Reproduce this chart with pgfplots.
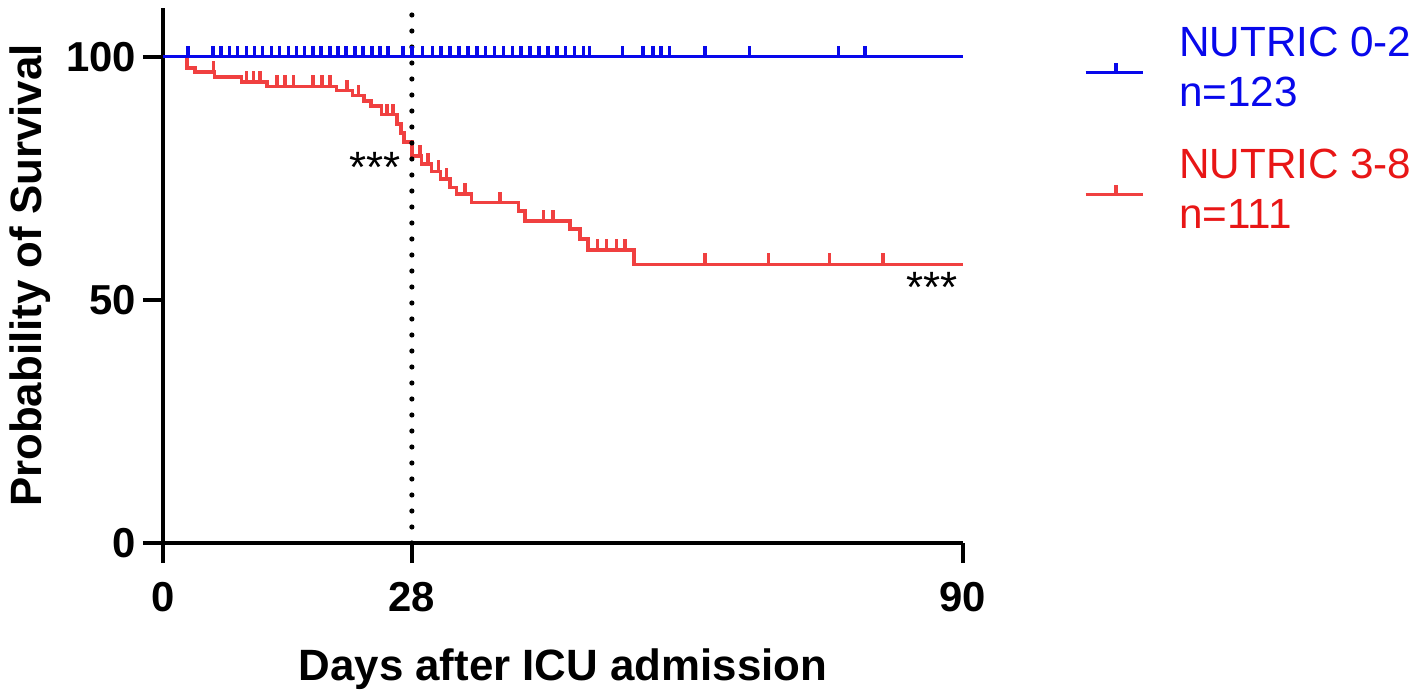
\documentclass[border=0pt]{standalone}
\usepackage{pgfplots}
\pgfplotsset{compat=1.18}
\usepackage{fontspec}
\setmainfont{Liberation Sans}
\definecolor{kmblue}{RGB}{8,8,235}
\definecolor{kmred}{RGB}{240,64,64}
\definecolor{txtred}{RGB}{232,22,22}
\pgfdeclareplotmark{cens}{%
  \pgfpathmoveto{\pgfqpoint{0pt}{0pt}}%
  \pgfpathlineto{\pgfqpoint{0pt}{\pgfplotmarksize}}%
  \pgfusepathqstroke}
\begin{document}
\begin{tikzpicture}
\useasboundingbox (-81.5bp,-75.5bp) rectangle (627bp,271.5bp);
\begin{axis}[
  at={(0,0)}, anchor=origin,
  scale only axis, width=400bp, height=267.5bp,
  xmin=0, xmax=90, ymin=0, ymax=110,
  axis x line*=bottom, axis y line*=left,
  xtick={0,28,90}, ytick={0,50,100},
  tick align=outside, major tick length=10bp,
  tick style={line width=2bp, black},
  axis line style={line width=2bp, black},
  /pgf/number format/assume math mode=true,
  ticklabel style={font=\fontsize{21}{21}\selectfont\bfseries},
  xticklabel style={yshift=-6bp},
  xlabel={Days after ICU admission},
  ylabel={Probability of Survival},
  xlabel style={font=\fontsize{22}{22}\selectfont\bfseries, at={(axis description cs:0.5,0)}, anchor=center, yshift=-63bp},
  ylabel style={font=\fontsize{22}{22}\selectfont\bfseries, at={(axis description cs:-0.16625,0.5)}, anchor=center},
  legend style={draw=none, fill=none, inner sep=0pt, outer sep=0pt,
    at={(axis description cs:0,0)}, anchor=north west, xshift=460.5bp, yshift=260bp,
    font=\fontsize{21.2}{25}\selectfont, row sep=15.8bp, column sep=15.5bp,
    cells={align=left, inner sep=0pt}},
  legend cell align=left,
  legend image code/.code={%
    \draw[#1, mark=none, line width=1.6bp] (0bp,-2.3bp) -- (28.5bp,-2.3bp);
    \draw[#1, mark=none, line width=1.8bp] (15.3bp,-2.3bp) -- (15.3bp,2.7bp);},
  clip=false,
]
% blue curve (legend)
\addplot[kmblue, line width=1.5bp, const plot] coordinates {(0,100) (90,100)};
\addlegendentry[text=kmblue]{NUTRIC 0-2\\n=123}
% red curve
\addplot[kmred, line width=1.8bp, const plot] coordinates {
(0,100) (2.7,97.7) (3.6,96.8) (5.8,95.8) (8.85,94.8) (11.7,93.9) (19.5,93.0)
(21.3,92.0) (22.6,90.9) (23.4,89.8) (24.6,88.1) (26.3,86.2) (26.8,84.3)
(27.1,82.4) (28.0,79.6) (29.1,77.9) (30.2,76.4) (31.2,74.8) (32.3,73.1)
(33.0,71.8) (34.7,70.0) (40.0,68.3) (40.7,66.2) (45.8,64.5) (46.9,62.5)
(47.8,60.3) (53.0,57.3) (90,57.3)};
\addlegendentry[text=txtred]{NUTRIC 3-8\\n=111}
% blue line again on top
\addplot[forget plot, kmblue, line width=1.5bp] coordinates {(0,100) (90,100)};
% dotted line at day 28
\addplot[forget plot, black, line width=2.6bp, dash pattern=on 0pt off 8bp, line cap=round] coordinates {(28,0) (28,110)};
% red censor marks
\addplot[forget plot, only marks, mark=cens, mark size=5.5bp, kmred, mark options={line width=1.8bp}] coordinates {
(5.7,96.8) (9.4,94.8) (10.2,94.8) (10.9,94.8)
(12.8,93.9) (13.7,93.9) (14.7,93.9) (16.9,93.9) (17.9,93.9) (18.8,93.9)
(20.7,93.0) (22.0,92.0) (25.2,88.1) (25.9,88.1)
(28.9,79.6) (29.8,77.9) (31.0,76.4) (31.9,74.8) (34.0,71.8) (37.9,70.0)
(42.8,66.2) (43.9,66.2) (48.9,60.3) (49.9,60.3) (51.0,60.3) (52.0,60.3)
(61.0,57.3) (68.1,57.3) (75.0,57.3) (81.0,57.3)};
% blue censor marks
\addplot[forget plot, only marks, mark=cens, mark size=5.5bp, kmblue, mark options={line width=1.8bp}] coordinates {
(2.8,100) (5.6,100) (6.5,100) (7.5,100) (8.4,100) (9.4,100) (10.3,100) (11.2,100)
(12.2,100) (13.1,100) (14.1,100) (15.0,100) (15.9,100) (16.9,100) (17.8,100)
(18.8,100) (19.7,100) (20.6,100) (21.6,100) (22.5,100) (23.5,100) (24.4,100)
(25.3,100) (27.0,100) (28.0,100) (29.2,100) (30.3,100) (31.3,100) (32.3,100)
(33.3,100) (34.3,100) (35.3,100) (36.3,100) (37.3,100) (38.3,100) (39.3,100)
(40.3,100) (41.3,100) (42.3,100) (43.3,100) (44.3,100) (45.3,100) (46.3,100)
(47.3,100) (48.0,100) (51.7,100) (54.0,100) (55.1,100) (56.0,100) (57.0,100)
(61.0,100) (66.0,100) (76.0,100) (79.0,100)};
% significance stars
\node[anchor=base, font=\fontsize{22}{22}\selectfont, inner sep=0pt] at (axis cs:23.9,74.2) {***};
\node[anchor=base, font=\fontsize{22}{22}\selectfont, inner sep=0pt] at (axis cs:86.5,49.4) {***};
\end{axis}
\end{tikzpicture}
\end{document}
